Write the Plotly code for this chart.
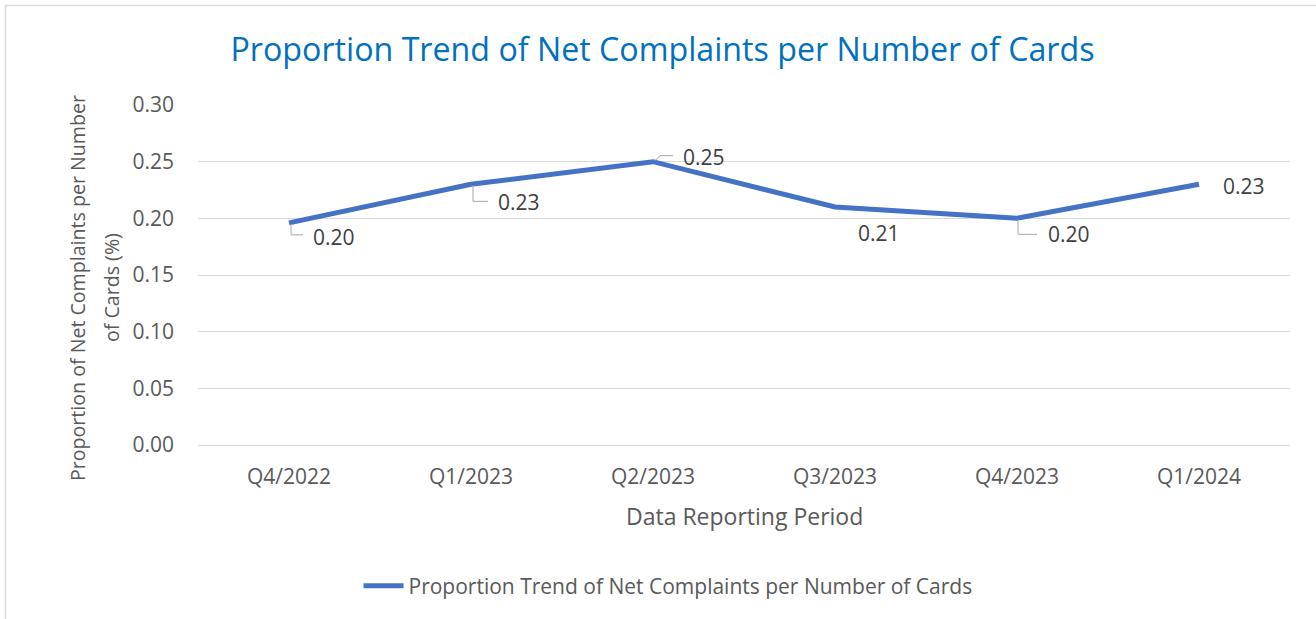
import plotly.graph_objects as go

categories = ["Q4/2022", "Q1/2023", "Q2/2023", "Q3/2023", "Q4/2023", "Q1/2024"]
values = [0.196, 0.230, 0.250, 0.210, 0.200, 0.230]
y_ticks = [0.00, 0.05, 0.10, 0.15, 0.20, 0.25, 0.30]
series_name = "Proportion Trend of Net Complaints per Number of Cards"
y_title_lines = ["Proportion of Net Complaints per Number", "of Cards (%)"]

# label offsets (pixels) and leader paths (pixel offsets, y up)
label_shift = [(22, -14), (25, -18), (28, 5), (21, -26), (29, -16), (22, -2)]
leaders = ["M 2,-1 L 2,-12 L 14,-12", "M 2,-1 L 2,-17 L 17,-17", "M 2,1 L 7,6 L 20,6",
           None, "M 1,-1 L 1,-16 L 20,-16", None]

FONT = "Open Sans"
GREY = "#595959"
L, R, T, B = 198, 26, 105, 174
W, H = 1316, 619
pw, ph = W - L - R, H - T - B

def px(x):
    return (x - L) / pw

def py(y):
    return (H - B - y) / ph

fig = go.Figure()
fig.add_trace(go.Scatter(x=categories, y=values, mode="lines", name=series_name,
                         line=dict(color="#4472C4", width=5)))

annotations = []
shapes = []
for i, (c, v) in enumerate(zip(categories, values)):
    dx, dy = label_shift[i]
    annotations.append(dict(x=c, y=v, xref="x", yref="y", text=f"{v:.2f}", showarrow=False,
                            xanchor="left", yanchor="middle", xshift=dx, yshift=dy,
                            font=dict(family=FONT, size=21, color="#404040")))
    if leaders[i]:
        shapes.append(dict(type="path", xref="x", yref="y", xsizemode="pixel", ysizemode="pixel",
                           xanchor=c, yanchor=v, path=leaders[i],
                           line=dict(color="#A6A6A6", width=1)))

# y axis title (two lines, Excel-like line spacing)
for line_text, cx in zip(y_title_lines, [77, 111]):
    annotations.append(dict(x=px(cx), y=py(288), xref="paper", yref="paper", textangle=-90,
                            text=line_text, showarrow=False, xanchor="center", yanchor="middle",
                            font=dict(family=FONT, size=19.6, color=GREY)))
# x axis title
annotations.append(dict(x=0.5, y=py(516), xref="paper", yref="paper", text="Data Reporting Period",
                        showarrow=False, xanchor="center", yanchor="middle",
                        font=dict(family=FONT, size=23, color=GREY)))

# chart border
shapes.append(dict(type="rect", xref="paper", yref="paper", x0=px(5.5), x1=px(1330), y0=py(640), y1=py(5.5),
                   line=dict(color="#D9D9D9", width=1.5), layer="below"))

fig.update_layout(
    width=W, height=H,
    margin=dict(l=L, r=R, t=T, b=B),
    paper_bgcolor="white", plot_bgcolor="white",
    title=dict(text="Proportion Trend of Net Complaints per Number of Cards",
               x=(662.5 / W), xanchor="center", y=1 - 50 / H, yanchor="middle",
               font=dict(family=FONT, size=32.2, color="#0070C0")),
    xaxis=dict(type="category", range=[-0.5, 5.5], showgrid=False, showline=False, ticks="",
               tickfont=dict(family=FONT, size=21, color=GREY), ticklabelstandoff=17,
               fixedrange=True),
    yaxis=dict(range=[0, 0.30], tickvals=y_ticks, ticktext=[f"{t:.2f}" for t in y_ticks],
               showgrid=True, gridcolor="#D9D9D9", gridwidth=1, zeroline=True, zerolinecolor="#D9D9D9",
               zerolinewidth=1, showline=False, ticks="",
               tickfont=dict(family=FONT, size=21, color=GREY), ticklabelstandoff=23),
    showlegend=True,
    legend=dict(orientation="h", x=px(668), xanchor="center", y=py(586), yanchor="middle",
                font=dict(family=FONT, size=21, color=GREY), itemwidth=40),
    annotations=annotations,
    shapes=shapes,
)

fig.write_html("out.html", config={"displayModeBar": False},
               post_script="document.body.style.margin='0';")
